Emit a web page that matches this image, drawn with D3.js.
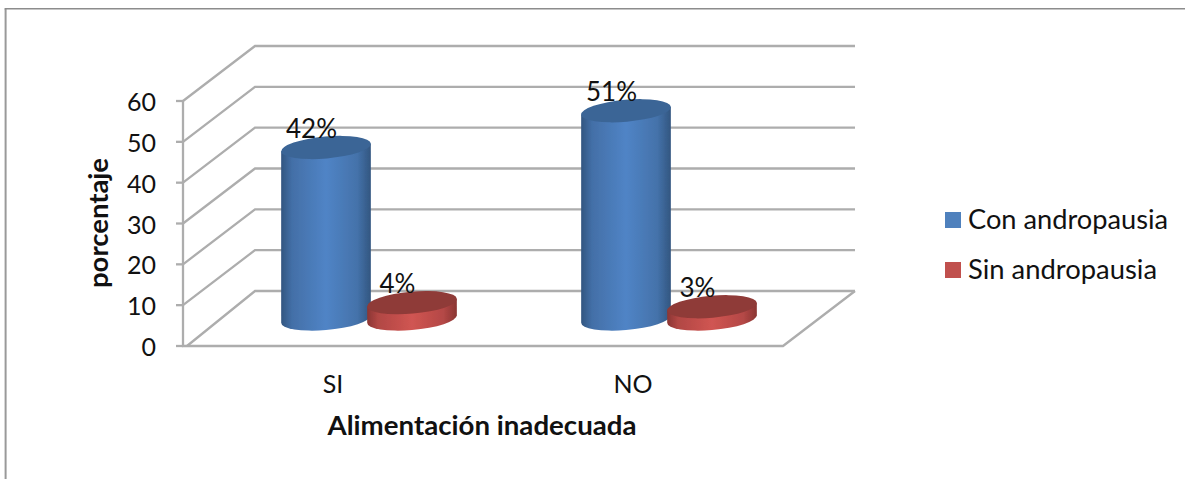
<!DOCTYPE html>
<html><head><meta charset="utf-8">
<script src="https://cdn.jsdelivr.net/npm/d3@7"></script>
<style>html,body{margin:0;padding:0;background:#fff}svg{display:block}text{font-family:Lato,"Open Sans",sans-serif;fill:#111}</style>
</head><body><svg id="c" width="1185" height="479"></svg>
<script>
const categories = ["SI","NO"];
const seriesNames = ["Con andropausia","Sin andropausia"];
const conAndropausia = [42,51];
const sinAndropausia = [4,3];
const yTicks = [0,10,20,30,40,50,60];
const xTitle = "Alimentación inadecuada";
const yTitle = "porcentaje";
const palette = [
 {edge:"#325680",mid:"#5084c6",top:"#3b6596",swatch:"#4f81bd"},
 {edge:"#8a3533",mid:"#d05552",top:"#8f3a38",swatch:"#c0504d"}];

const svg = d3.select("#c");
const defs = svg.append("defs");
defs.append("filter").attr("id","soft").attr("x","-5%").attr("y","-5%").attr("width","110%").attr("height","110%")
 .append("feGaussianBlur").attr("stdDeviation",0.7);
palette.forEach((p,i)=>{
  const g=defs.append("linearGradient").attr("id","g"+i);
  [[0,p.edge],[.12,d3.interpolateRgb(p.edge,p.mid)(.55)],[.5,p.mid],[.85,d3.interpolateRgb(p.edge,p.mid)(.6)],[1,p.edge]]
   .forEach(s=>g.append("stop").attr("offset",s[0]).attr("stop-color",s[1]));
});

// outer frame (open on the right)
svg.append("path").attr("d","M5.6,479V8.8").attr("fill","none").attr("stroke","#999").attr("stroke-width",2);
svg.append("path").attr("d","M4.6,8.8H1185").attr("fill","none").attr("stroke","#8c8c8c").attr("stroke-width",1.5);

const y = d3.scaleLinear().domain([0,60]).range([346,101]);
const x = d3.scaleBand().domain(categories).range([183,783]);
const depthX = 72, depthY = -55;
const grid = svg.append("g").attr("filter","url(#soft)").attr("fill","none").attr("stroke","#adadad").attr("stroke-width",2.3);
yTicks.forEach(t=>{
  const yy=y(t), sx=t===0?187:183;
  grid.append("path").attr("d",`M${sx},${yy}L${183+depthX},${yy+depthY}H${783+depthX}`);
  grid.append("path").attr("d",`M176,${yy}H183`);
});
grid.append("path").attr("d",`M183,${y(60)}V${y(0)}H783L${783+depthX},${y(0)+depthY}`);

// y axis labels
const axisG = svg.append("g");
yTicks.forEach(t=>axisG.append("text").attr("x",156).attr("y",y(t)+10).attr("text-anchor","end").attr("font-size",25).text(t));
categories.forEach(c=>svg.append("text").attr("x",x(c)+x.bandwidth()/2).attr("y",393).attr("text-anchor","middle").attr("font-size",25).text(c));
svg.append("text").attr("x",482).attr("y",435).attr("text-anchor","middle").attr("font-size",26).attr("font-weight",700)
  .attr("textLength",309).attr("lengthAdjust","spacingAndGlyphs").text(xTitle);
svg.append("text").attr("transform","translate(108,223) rotate(-90)").attr("text-anchor","middle").attr("font-size",26).attr("font-weight",700)
  .attr("textLength",130).attr("lengthAdjust","spacingAndGlyphs").text(yTitle);

// cylinders
const offs = [-7,79], rx=45, ry=11, tilt=-5;
const baseY = y(0)-27;
const unit = y(0)-y(1);
const rad = tilt*Math.PI/180;
const tx = Math.hypot(rx*Math.cos(rad),ry*Math.sin(rad));
const tyOff = (rx*rx-ry*ry)*Math.sin(rad)*Math.cos(rad)/tx;
[conAndropausia,sinAndropausia].forEach((vals,s)=>{
  vals.forEach((v,i)=>{
    const cx=x(categories[i])+x.bandwidth()/2+offs[s];
    const top=baseY-v*unit, g=svg.append("g").attr("filter","url(#soft)");
    const bs=baseY, L=cx-tx, R=cx+tx, dy=tyOff;
    g.append("path").attr("fill",`url(#g${s})`)
     .attr("d",`M${L},${top-dy}L${R},${top+dy}L${R},${bs+dy}A${rx},${ry} ${tilt} 0 1 ${L},${bs-dy}Z`);
    g.append("ellipse").attr("cx",cx).attr("cy",top).attr("rx",rx).attr("ry",ry)
     .attr("transform",`rotate(${tilt},${cx},${top})`).attr("fill",palette[s].top);
  });
});
// data labels
[conAndropausia,sinAndropausia].forEach((vals,s)=>vals.forEach((v,i)=>{
  const cx=x(categories[i])+x.bandwidth()/2+offs[s];
  svg.append("text").attr("x",cx-14.5).attr("y",baseY-v*unit-9.5).attr("text-anchor","middle").attr("font-size",26).text(v+"%");
}));
// legend
const legendWidths = [200,189];
seriesNames.forEach((n,i)=>{
  const ly=220+i*50;
  svg.append("rect").attr("x",945).attr("y",ly-8).attr("width",16).attr("height",16).attr("fill",palette[i].swatch);
  svg.append("text").attr("x",968).attr("y",ly+8.5).attr("font-size",26)
    .attr("textLength",legendWidths[i]).attr("lengthAdjust","spacingAndGlyphs").text(n);
});
</script></body></html>
